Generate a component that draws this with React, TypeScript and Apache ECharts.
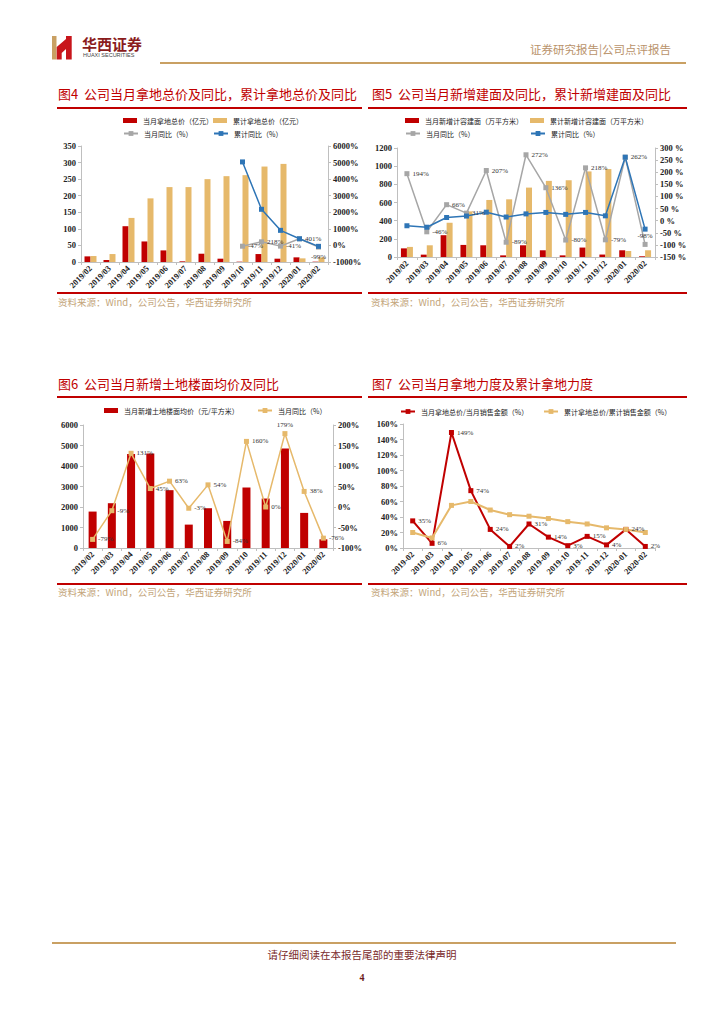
import React, { useEffect, useRef } from "react";
import * as echarts from "echarts";

const cats = ["2019/02", "2019/03", "2019/04", "2019/05", "2019/06", "2019/07", "2019/08", "2019/09", "2019/10", "2019/11", "2019/12", "2020/01", "2020/02"];
const cats7 = ["2019-02", "2019-03", "2019-04", "2019-05", "2019-06", "2019-07", "2019-08", "2019-09", "2019-10", "2019-11", "2019-12", "2020-01", "2020-02"];

// Fig 4
const landMonth = [17, 6, 108, 62, 35, 2, 25, 10, 1, 24, 10, 14, 1];
const landCum = [18, 24, 133, 192, 226, 226, 250, 259, 262, 288, 296, 11, 14];
const landMonthYoY = [null, null, null, null, null, null, null, null, -47, 218, -41, 401, -99];
const landCumYoY = [null, null, null, null, null, null, null, null, 5040, 2180, 910, 401, -55];
// Fig 5
const gfaMonth = [95, 26, 240, 133, 129, 18, 129, 74, 18, 104, 27, 74, 8];
const gfaCum = [111, 129, 377, 502, 628, 635, 764, 838, 845, 942, 968, 66, 74];
const gfaMonthYoY = [194, -46, 66, 31, 207, -89, 272, 136, -80, 218, -79, 262, -98];
const gfaCumYoY = [-21, -27, 13, 19, 35, 15, 28, 34, 26, 34, 20, 262, -35];
// Fig 6
const avgPrice = [1777, 2185, 4582, 4614, 2821, 1141, 1940, 1321, 2951, 2413, 4859, 1712, 424];
const avgPriceYoY = [-79, -9, 131, 45, 63, -3, 54, -84, 160, 0, 179, 38, -76];
// Fig 7
const monthIntensity = [35, 6, 149, 74, 24, 2, 31, 14, 3, 15, 4, 24, 2];
const cumIntensity = [20, 13, 55, 60, 49, 43, 41, 38, 34, 31, 26, 24, 20];

const RED = "#c00000";
const TAN = "#e6b96b";
const GRAY = "#a6a6a6";
const BLUE = "#2e75b6";
const AXIS = "#bfbfbf";
const SERIF = "Liberation Serif";
const CJK = "Noto Sans CJK SC";

const numLabel = { fontSize: 8.5, fontWeight: "bold", fontFamily: SERIF, color: "#222" };
const dataLabel = { fontSize: 7, fontFamily: SERIF, color: "#333" };

function catAxis(data: string[]) {
  return {
    type: "category",
    data,
    axisLine: { lineStyle: { color: AXIS } },
    axisTick: { show: true, length: 3, lineStyle: { color: AXIS } },
    axisLabel: { ...numLabel, rotate: 45, interval: 0, margin: 5 },
  };
}
function valAxis(min: number, max: number, interval: number, pos: string, suffix = "") {
  return {
    type: "value",
    min,
    max,
    interval,
    position: pos,
    axisLine: { show: true, lineStyle: { color: AXIS } },
    axisTick: { show: true, length: 3, lineStyle: { color: AXIS } },
    splitLine: { show: false },
    axisLabel: { ...numLabel, margin: 5, formatter: (v: number) => String(v) + suffix },
  };
}
function leg(left: number, top: number, name: string, rect: boolean) {
  const d: any = { name };
  if (rect) d.icon = "rect";
  return {
    left,
    top,
    padding: 0,
    itemGap: 0,
    itemWidth: 14,
    itemHeight: rect ? 5 : 6,
    textStyle: { fontSize: 7, fontFamily: CJK, color: "#222", padding: [0, 0, 0, 1] },
    data: [d],
  };
}
function lineSeries(name: string, data: any[], color: string, yIdx: number, labels: boolean, width = 1.5, size = 5) {
  return {
    name,
    type: "line",
    yAxisIndex: yIdx,
    data,
    symbol: "rect",
    symbolSize: size,
    connectNulls: false,
    lineStyle: { color, width },
    itemStyle: { color },
    label: labels
      ? { show: true, position: "right", distance: 3, ...dataLabel, formatter: (p: any) => (p.value === null || p.value === undefined ? "" : p.value + "%") }
      : { show: false },
  };
}

const option4: any = {
  animation: false,
  legend: [
    leg(123, 117, "当月拿地总价（亿元）", true),
    leg(213, 117, "累计拿地总价（亿元）", true),
    leg(123, 130, "当月同比（%）", false),
    leg(213, 130, "累计同比（%）", false),
  ],
  grid: { left: 81, top: 146, width: 247, height: 116 },
  xAxis: catAxis(cats),
  yAxis: [valAxis(0, 350, 50, "left"), valAxis(-1000, 6000, 1000, "right", "%")],
  series: [
    { name: "当月拿地总价（亿元）", type: "bar", data: landMonth, barWidth: 6, barGap: "0%", itemStyle: { color: RED } },
    { name: "累计拿地总价（亿元）", type: "bar", data: landCum, barWidth: 6, barGap: "0%", itemStyle: { color: TAN } },
    {
      ...lineSeries("当月同比（%）", landMonthYoY, GRAY, 1, true),
      data: landMonthYoY.map((v, i) => (i === 12 ? { value: v, label: { position: "bottom", distance: 4 } } : v)),
    },
    lineSeries("累计同比（%）", landCumYoY, BLUE, 1, false),
  ],
};

const option5: any = {
  animation: false,
  legend: [
    leg(405, 117, "当月新增计容建面（万平方米）", true),
    leg(530, 117, "累计新增计容建面（万平方米）", true),
    leg(405, 130, "当月同比（%）", false),
    leg(530, 130, "累计同比（%）", false),
  ],
  grid: { left: 397, top: 148, width: 258, height: 109 },
  xAxis: catAxis(cats),
  yAxis: [valAxis(0, 1200, 200, "left"), valAxis(-150, 300, 50, "right", " %")],
  series: [
    { name: "当月新增计容建面（万平方米）", type: "bar", data: gfaMonth, barWidth: 6, barGap: "0%", itemStyle: { color: RED } },
    { name: "累计新增计容建面（万平方米）", type: "bar", data: gfaCum, barWidth: 6, barGap: "0%", itemStyle: { color: TAN } },
    {
      ...lineSeries("当月同比（%）", gfaMonthYoY, GRAY, 1, true),
      data: gfaMonthYoY.map((v, i) => (i === 12 ? { value: v, label: { position: "top", distance: 2 } } : v)),
    },
    lineSeries("累计同比（%）", gfaCumYoY, BLUE, 1, false),
  ],
};

const option6: any = {
  animation: false,
  legend: [leg(104, 407, "当月新增土地楼面均价（元/平方米）", true), leg(257, 407, "当月同比（%）", false)],
  grid: { left: 83, top: 425, width: 250, height: 123 },
  xAxis: catAxis(cats),
  yAxis: [valAxis(0, 6000, 1000, "left"), valAxis(-100, 200, 50, "right", "%")],
  series: [
    { name: "当月新增土地楼面均价（元/平方米）", type: "bar", data: avgPrice, barWidth: 8, itemStyle: { color: RED } },
    {
      ...lineSeries("当月同比（%）", avgPriceYoY, TAN, 1, true),
      data: avgPriceYoY.map((v, i) => (i === 10 ? { value: v, label: { position: "top", distance: 3 } } : v)),
    },
  ],
};

const option7: any = {
  animation: false,
  legend: [leg(400, 408, "当月拿地总价/当月销售金额（%）", false), leg(543, 408, "累计拿地总价/累计销售金额（%）", false)],
  grid: { left: 403, top: 424, width: 252, height: 124 },
  xAxis: catAxis(cats7),
  yAxis: [valAxis(0, 160, 20, "left", "%")],
  series: [
    lineSeries("当月拿地总价/当月销售金额（%）", monthIntensity, RED, 0, true, 2, 5),
    lineSeries("累计拿地总价/累计销售金额（%）", cumIntensity, TAN, 0, false, 2, 5),
  ],
};

function txt(x: number, y: number, text: string, size: number, fill: string, extra: any = {}) {
  return {
    type: "text",
    x,
    y,
    style: { text, fontSize: size, fill, fontFamily: CJK, verticalAlign: "middle", ...extra },
  };
}
function hline(x1: number, x2: number, y: number, color: string, w = 2) {
  return { type: "line", shape: { x1, y1: y, x2, y2: y }, style: { stroke: color, lineWidth: w } };
}

const GOLD = "#c9a063";
const SRC = "资料来源：Wind，公司公告，华西证券研究所";

const pageOption: any = {
  animation: false,
  graphic: [
    { type: "polygon", shape: { points: [[52, 36], [56.5, 36], [56.5, 59.5], [52, 59.5]] }, style: { fill: "#c9a063" } },
    {
      type: "polygon",
      shape: { points: [[56.7, 47], [66, 39], [66, 36], [71.7, 36], [71.7, 59.5], [66, 59.5], [66, 49], [61.7, 53], [61.7, 59.5], [56.7, 59.5]] },
      style: { fill: "#c8151b" },
    },
    txt(82, 43, "华西证券", 15, "#8a1c1c", { fontWeight: "bold" }),
    txt(83, 55, "HUAXI SECURITIES", 5.5, "#444", { fontFamily: "Liberation Sans" }),
    txt(671, 49, "证券研究报告|公司点评报告", 11.5, "#b9926a", { align: "right" }),
    hline(160, 686, 63, GOLD, 2),

    txt(58, 93, "图4  公司当月拿地总价及同比，累计拿地总价及同比", 13, RED),
    txt(372, 93, "图5  公司当月新增建面及同比，累计新增建面及同比", 13, RED),
    hline(57, 362, 108, RED, 2),
    hline(368, 687, 108, RED, 2),
    hline(57, 362, 293, RED, 2),
    hline(368, 687, 293, RED, 2),
    txt(58, 302, SRC, 9.5, "#c3a57a"),
    txt(371, 302, SRC, 9.5, "#c3a57a"),

    txt(58, 383, "图6  公司当月新增土地楼面均价及同比", 13, RED),
    txt(372, 383, "图7  公司当月拿地力度及累计拿地力度", 13, RED),
    hline(57, 362, 397, RED, 2),
    hline(368, 687, 397, RED, 2),
    hline(57, 362, 584, RED, 2),
    hline(368, 687, 584, RED, 2),
    txt(58, 592, SRC, 9.5, "#c3a57a"),
    txt(371, 592, SRC, 9.5, "#c3a57a"),

    hline(52, 676, 943, GOLD, 2),
    txt(362, 954, "请仔细阅读在本报告尾部的重要法律声明", 10.5, "#7a2a2a", { align: "center" }),
    txt(362, 977, "4", 10, "#6b1a1a", { align: "center", fontWeight: "bold", fontFamily: SERIF }),
  ],
};

function EChart({ option }: { option: any }) {
  const ref = useRef<HTMLDivElement>(null);
  useEffect(() => {
    const chart = echarts.init(ref.current as HTMLDivElement, null, { renderer: "svg" });
    chart.setOption(option);
    return () => chart.dispose();
  }, [option]);
  return <div ref={ref} style={{ position: "absolute", left: 0, top: 0, width: 724, height: 1024 }} />;
}

export default function App() {
  return (
    <div style={{ position: "absolute", left: 0, top: 0, width: 724, height: 1024, background: "#fff" }}>
      <EChart option={pageOption} />
      <EChart option={option4} />
      <EChart option={option5} />
      <EChart option={option6} />
      <EChart option={option7} />
    </div>
  );
}
